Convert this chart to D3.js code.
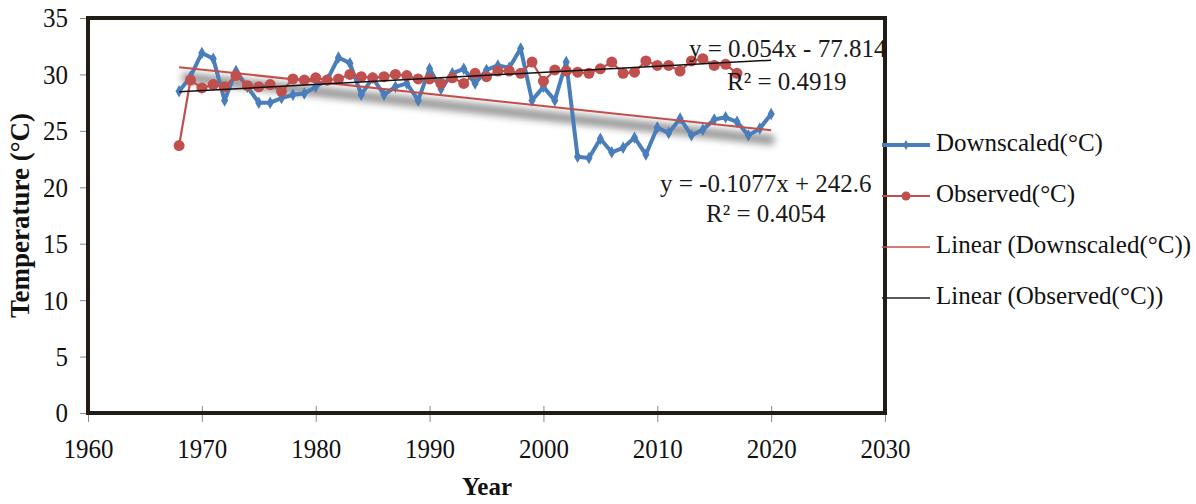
<!DOCTYPE html>
<html lang="en">
<head>
<meta charset="UTF-8">
<script src="https://d3js.org/d3.v7.min.js"></script>
<style>
  body { margin: 0; background: #fff; }
  svg, svg text { font-family: "Liberation Serif", "Times New Roman", serif; }
  svg { display: block; }
</style>
</head>
<body>
<div id="plot"></div>
<script>
// years + values
const yearsDown = [1968,1969,1970,1971,1972,1973,1974,1975,1976,1977,1978,1979,1980,1981,1982,1983,1984,1985,1986,1987,1988,1989,1990,1991,1992,1993,1994,1995,1996,1997,1998,1999,2000,2001,2002,2003,2004,2005,2006,2007,2008,2009,2010,2011,2012,2013,2014,2015,2016,2017,2018,2019,2020];
const downscaled = [28.5,29.8,31.9,31.4,27.7,30.3,28.9,27.5,27.5,27.9,28.2,28.3,28.9,29.5,31.5,31.0,28.2,29.7,28.2,28.9,29.2,27.7,30.5,28.7,30.1,30.5,29.2,30.4,30.8,30.6,32.3,27.7,28.9,27.7,31.1,22.7,22.6,24.3,23.1,23.5,24.4,22.9,25.3,24.8,26.1,24.6,25.1,26.0,26.2,25.8,24.6,25.2,26.5];

const yearsObs = [1968,1969,1970,1971,1972,1973,1974,1975,1976,1977,1978,1979,1980,1981,1982,1983,1984,1985,1986,1987,1988,1989,1990,1991,1992,1993,1994,1995,1996,1997,1998,1999,2000,2001,2002,2003,2004,2005,2006,2007,2008,2009,2010,2011,2012,2013,2014,2015,2016,2017];
const observed = [23.7,29.5,28.8,29.1,28.9,29.9,29.0,28.9,29.1,28.5,29.6,29.5,29.7,29.5,29.6,30.0,29.8,29.7,29.8,30.0,29.9,29.6,29.6,29.2,29.7,29.2,30.1,29.8,30.3,30.3,30.1,31.1,29.4,30.4,30.3,30.2,30.1,30.5,31.1,30.1,30.2,31.2,30.8,30.8,30.3,31.2,31.4,30.8,30.9,30.1];

// trendline equations as printed on the chart
const trendDown = { slope: -0.1077, intercept: 242.6, r2: "0.4054" };
const trendObs = { slope: 0.054, intercept: -77.814, r2: "0.4919" };
const trendYears = [1968, 2020];

const xTicks = [1960,1970,1980,1990,2000,2010,2020,2030];
const yTicks = [0,5,10,15,20,25,30,35];

const legendLabels = ["Downscaled(°C)", "Observed(°C)", "Linear (Downscaled(°C))", "Linear (Observed(°C))"];

const blue = "#4a7ebb", red = "#c0504d";

const width = 1196, height = 504;
const svg = d3.select("#plot").append("svg")
    .attr("width", width)
    .attr("height", height);

const x = d3.scaleLinear().domain([1960, 2030]).range([88, 885]);
const y = d3.scaleLinear().domain([0, 35]).range([413, 18]);

// shadow filter for the downscaled trendline
const defs = svg.append("defs");
defs.append("filter").attr("id", "blur")
    .attr("x", "-10%").attr("y", "-200%").attr("width", "120%").attr("height", "500%")
  .append("feGaussianBlur").attr("stdDeviation", 3.5);

// y axis
svg.append("g")
    .attr("transform", `translate(${x(1960)},0)`)
    .call(d3.axisLeft(y).tickValues(yTicks).tickSize(8).tickPadding(12))
    .call(g => g.select(".domain").remove())
    .call(g => g.selectAll(".tick line").attr("stroke", "#888"))
    .call(g => g.selectAll(".tick text")
        .attr("transform", "scale(1,1.12)")
        .style("font-family", "'Liberation Serif', serif").attr("font-size", 25).attr("fill", "#111"));

// x axis
svg.append("g")
    .attr("transform", `translate(0,${y(0)})`)
    .call(d3.axisBottom(x).tickValues(xTicks).tickFormat(d3.format("d")).tickSize(8))
    .call(g => g.select(".domain").remove())
    .call(g => g.selectAll(".tick line").attr("stroke", "#888").attr("y1", -7).attr("y2", 9))
    .call(g => g.selectAll(".tick text")
        .attr("transform", "scale(1,1.12)")
        .attr("y", 31).attr("dy", "0.35em")
        .style("font-family", "'Liberation Serif', serif").attr("font-size", 25).attr("fill", "#111"));

// plot frame
svg.append("rect")
    .attr("x", x(1960)).attr("y", y(35))
    .attr("width", x(2030) - x(1960)).attr("height", y(0) - y(35))
    .attr("fill", "none").attr("stroke", "#211d15").attr("stroke-width", 4);

// axis titles
svg.append("text")
    .attr("transform", `translate(23,${(y(0) + y(35)) / 2}) rotate(-90)`)
    .attr("text-anchor", "middle").attr("dominant-baseline", "middle")
    .attr("font-size", 27).attr("font-weight", "bold").attr("fill", "#111")
    .text("Temperature (°C)");

svg.append("text")
    .attr("x", 487).attr("y", 489)
    .attr("text-anchor", "middle").attr("dominant-baseline", "middle")
    .attr("font-size", 25).attr("font-weight", "bold").attr("fill", "#111")
    .text("Year");

const trendLine = t => d3.line()
    .x(d => x(d))
    .y(d => y(t.slope * d + t.intercept));

// shadow under downscaled trend
svg.append("path")
    .attr("d", trendLine(trendDown)(trendYears))
    .attr("transform", "translate(3,10)")
    .attr("fill", "none").attr("stroke", "#777").attr("stroke-width", 10)
    .attr("opacity", 0.75).attr("filter", "url(#blur)");

const downData = yearsDown.map((yr, i) => [yr, downscaled[i]]);
const obsData = yearsObs.map((yr, i) => [yr, observed[i]]);
const line = d3.line().x(d => x(d[0])).y(d => y(d[1]));

// downscaled series
svg.append("path")
    .attr("d", line(downData))
    .attr("fill", "none").attr("stroke", blue).attr("stroke-width", 4)
    .attr("stroke-linejoin", "round");
svg.append("g").selectAll("path")
  .data(downData)
  .join("path")
    .attr("transform", d => `translate(${x(d[0])},${y(d[1])})`)
    .attr("d", d3.symbol(d3.symbolDiamond, 45))
    .attr("fill", blue);

// observed series
svg.append("path")
    .attr("d", line(obsData))
    .attr("fill", "none").attr("stroke", red).attr("stroke-width", 2.2);
svg.append("g").selectAll("circle")
  .data(obsData)
  .join("circle")
    .attr("cx", d => x(d[0])).attr("cy", d => y(d[1]))
    .attr("r", 5.5)
    .attr("fill", red);

// trendlines
svg.append("path")
    .attr("d", trendLine(trendDown)(trendYears))
    .attr("fill", "none").attr("stroke", red).attr("stroke-width", 2);
svg.append("path")
    .attr("d", trendLine(trendObs)(trendYears))
    .attr("fill", "none").attr("stroke", "#111").attr("stroke-width", 1.5);

// equations
const eq = svg.append("g").attr("font-size", 25).attr("fill", "#1a1a1a");
eq.append("text").attr("x", 689).attr("y", 57).text(`y = ${trendObs.slope}x - ${Math.abs(trendObs.intercept)}`);
eq.append("text").attr("x", 727).attr("y", 90).text(`R² = ${trendObs.r2}`);
eq.append("text").attr("x", 660).attr("y", 192).text(`y = ${trendDown.slope}x + ${trendDown.intercept}`);
eq.append("text").attr("x", 706).attr("y", 222).text(`R² = ${trendDown.r2}`);

// legend
const legY = [145, 196, 247, 298];
const leg = svg.append("g");
legendLabels.forEach((lab, i) => {
  const g = leg.append("g").attr("transform", `translate(882,${legY[i]})`);
  const col = i === 0 ? blue : i === 3 ? "#222" : red;
  g.append("line").attr("x1", 0).attr("x2", 48)
      .attr("stroke", col).attr("stroke-width", i === 0 ? 4 : i === 1 ? 2.2 : 1.5);
  if (i === 0) g.append("path").attr("transform", "translate(24,0)")
      .attr("d", d3.symbol(d3.symbolDiamond, 30)).attr("fill", blue);
  if (i === 1) g.append("circle").attr("cx", 24).attr("r", 4.5).attr("fill", red);
  g.append("text").attr("x", 54).attr("dominant-baseline", "middle")
      .attr("font-size", 25).attr("fill", "#111").text(lab);
});
</script>
</body>
</html>
